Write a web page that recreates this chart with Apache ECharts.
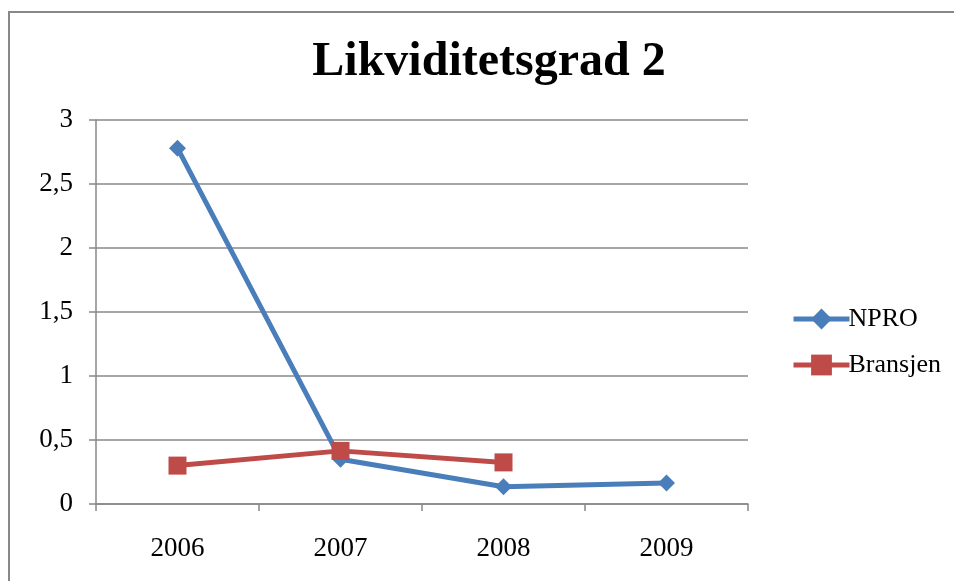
<!DOCTYPE html>
<html lang="no">
<head>
    <meta charset="UTF-8">
    <title>Likviditetsgrad 2</title>
    <script src="https://cdn.jsdelivr.net/npm/echarts@6.0.0/dist/echarts.min.js"></script>
    <style>
        html, body { margin: 0; padding: 0; background: #fff; }
    </style>
</head>
<body>
    <div id="main" style="width: 954px;height:581px;"></div>
    <script type="text/javascript">
        // data
        const years = ['2006', '2007', '2008', '2009'];
        const npro = [2.78, 0.35, 0.135, 0.165];
        const bransjen = [0.30, 0.415, 0.325, null];
        const seriesNames = ['NPRO', 'Bransjen'];

        const serif = '"Liberation Serif", "DejaVu Serif", serif';
        const gray = '#888888';

        let myChart = echarts.init(document.getElementById('main'));

        let options = {
            animation: false,
            textStyle: { fontFamily: serif },
            title: {
                text: 'Likviditetsgrad 2',
                left: 484,
                textAlign: 'center',
                top: 34,
                textStyle: { fontFamily: serif, fontSize: 48, fontWeight: 'bold', color: '#000' }
            },
            legend: {
                orient: 'vertical',
                left: 786,
                top: 301,
                itemWidth: 56,
                itemHeight: 26,
                itemGap: 20,
                lineStyle: { width: 5 },
                textStyle: { fontFamily: serif, fontSize: 26, color: '#000', padding: [0, 0, 0, -6] },
                data: seriesNames
            },
            grid: { left: 96, right: 206, top: 120, bottom: 77 },
            xAxis: {
                type: 'category',
                data: years,
                boundaryGap: true,
                axisLine: { lineStyle: { color: gray, width: 1.5 } },
                axisTick: { show: true, length: 7, lineStyle: { color: gray, width: 1.5 } },
                axisLabel: { fontFamily: serif, fontSize: 27, color: '#000', margin: 31 }
            },
            yAxis: {
                type: 'value',
                min: 0,
                max: 3,
                interval: 0.5,
                axisLine: { show: true, lineStyle: { color: gray, width: 1.5 } },
                axisTick: { show: true, length: 7, lineStyle: { color: gray, width: 1.5 } },
                splitLine: { lineStyle: { color: gray, width: 1.5 } },
                axisLabel: {
                    fontFamily: serif, fontSize: 27, color: '#000', margin: 23,
                    formatter: v => String(v).replace('.', ',')
                }
            },
            graphic: [{
                type: 'rect',
                shape: { x: 9, y: 12, width: 1000, height: 700 },
                style: { fill: 'none', stroke: gray, lineWidth: 2 },
                silent: true
            }],
            series: [
                {
                    name: seriesNames[0],
                    type: 'line',
                    data: npro,
                    symbol: 'diamond',
                    symbolSize: 17,
                    lineStyle: { color: '#4a7ebb', width: 5 },
                    itemStyle: { color: '#4a7ebb' }
                },
                {
                    name: seriesNames[1],
                    type: 'line',
                    data: bransjen,
                    symbol: 'rect',
                    symbolSize: 18,
                    lineStyle: { color: '#be4b48', width: 5 },
                    itemStyle: { color: '#be4b48' }
                }
            ]
        };

        myChart.setOption(options);
    </script>
</body>
</html>
